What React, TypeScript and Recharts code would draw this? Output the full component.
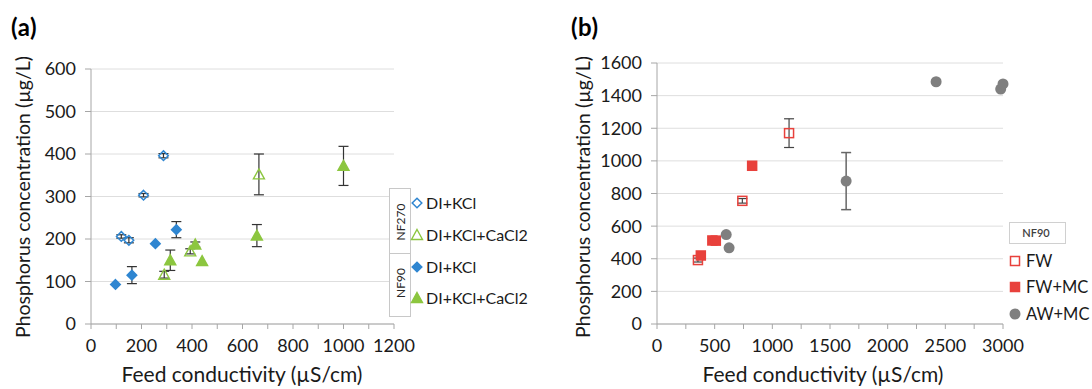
import React from 'react';
import { ScatterChart, Scatter, XAxis, YAxis, CartesianGrid, ErrorBar, Legend } from 'recharts';

const FONT = 'Lato, "Open Sans", sans-serif';

// ---------- Panel (a) ----------
const aXTicks = [0, 100, 200, 300, 400, 500, 600, 700, 800, 900, 1000, 1100, 1200];
const aYTicks = [0, 100, 200, 300, 400, 500, 600];

const nf270KclX = [120, 150, 208, 287];
const nf270KclY = [206, 197, 303, 396];
const nf270KclE = [4, 6, 4, 5];

const nf270CaX = [290, 393, 665];
const nf270CaY = [116, 171, 352];
const nf270CaE = [8, 6, 48];

const nf90KclX = [97, 162, 255, 338];
const nf90KclY = [93, 115, 189, 222];
const nf90KclE = [null, 20, null, 19];

const nf90CaX = [314, 413, 440, 657, 1000];
const nf90CaY = [150, 187, 148, 208, 372];
const nf90CaE = [24, 6, null, 26, 46];

// ---------- Panel (b) ----------
const bXTicks = [0, 250, 500, 750, 1000, 1250, 1500, 1750, 2000, 2250, 2500, 2750, 3000];
const bYTicks = [0, 200, 400, 600, 800, 1000, 1200, 1400, 1600];

const fwX = [355, 740, 1145];
const fwY = [392, 755, 1170];
const fwE = [12, 14, 88];

const fwmcX = [380, 480, 510, 825];
const fwmcY = [420, 512, 511, 970];
const fwmcE = [null, null, null, null];

const awmcX = [600, 625, 1640, 2420, 2980, 3000];
const awmcY = [548, 467, 876, 1485, 1440, 1472];
const awmcE = [null, null, 175, null, null, null];

const pts = (xs: number[], ys: number[], es: (number | null)[]) =>
  xs.map((x, i) => ({ x, y: ys[i], e: es[i] }));

const BLUE = '#2f86d1';
const GREEN = '#8cc63f';
const RED = '#e8413c';
const GRAY = '#7f7f7f';

// ---------- marker shapes ----------
const diamondShape = (fill: string, stroke: string) => (p: any) => {
  const { cx, cy } = p;
  const r = 4.8;
  return (
    <path d={`M${cx},${cy - r}L${cx + r},${cy}L${cx},${cy + r}L${cx - r},${cy}Z`} fill={fill} stroke={stroke} strokeWidth={1.5} />
  );
};
const triangleShape = (fill: string, stroke: string) => (p: any) => {
  const { cx, cy } = p;
  const w = 5.5;
  return (
    <path d={`M${cx},${cy - 5.5}L${cx + w},${cy + 4.5}L${cx - w},${cy + 4.5}Z`} fill={fill} stroke={stroke} strokeWidth={1.4} />
  );
};
const squareShape = (fill: string, stroke: string) => (p: any) => {
  const { cx, cy } = p;
  const h = 4.5;
  return <rect x={cx - h} y={cy - h} width={2 * h} height={2 * h} fill={fill} stroke={stroke} strokeWidth={1.5} />;
};
const circleShape = (fill: string) => (p: any) => {
  const { cx, cy } = p;
  return <circle cx={cx} cy={cy} r={5.5} fill={fill} />;
};

const openDiamond = diamondShape('none', BLUE);
const fullDiamond = diamondShape(BLUE, BLUE);
const openTriangle = triangleShape('none', GREEN);
const fullTriangle = triangleShape(GREEN, GREEN);
const openSquare = squareShape('none', RED);
const fullSquare = squareShape(RED, RED);
const grayCircle = circleShape(GRAY);

const tickStyle = { fill: '#1a1a1a', fontSize: 18, fontFamily: FONT };
const AXIS = '#a6a6a6';
const GRID = '#dedede';

// ---------- legends ----------
const LegendA = () => (
  <svg width={160} height={140} style={{ display: 'block', overflow: 'visible' }}>
    <g transform="translate(-385,-185)" fontFamily={FONT}>
      <rect x={389.5} y={188.5} width={21} height={65} fill="#fff" stroke="#c8c8c8" />
      <rect x={389.5} y={253.5} width={21} height={63} fill="#fff" stroke="#c8c8c8" />
      <text transform="translate(404.5,222) rotate(-90)" textAnchor="middle" fontSize={12} fill="#262626">NF270</text>
      <text transform="translate(404.5,283) rotate(-90)" textAnchor="middle" fontSize={12} fill="#262626">NF90</text>
      {openDiamond({ cx: 417, cy: 203 })}
      {openTriangle({ cx: 417, cy: 235 })}
      {fullDiamond({ cx: 417, cy: 267 })}
      {fullTriangle({ cx: 417, cy: 298 })}
      <text x={426} y={208.5} fontSize={16} fill="#1a1a1a">DI+KCl</text>
      <text x={426} y={240.5} fontSize={16} fill="#1a1a1a">DI+KCl+CaCl2</text>
      <text x={426} y={272.5} fontSize={16} fill="#1a1a1a">DI+KCl</text>
      <text x={426} y={303.5} fontSize={16} fill="#1a1a1a">DI+KCl+CaCl2</text>
    </g>
  </svg>
);

const LegendB = () => (
  <svg width={92} height={115} style={{ display: 'block', overflow: 'visible' }}>
    <g transform="translate(-1000,-215)" fontFamily={FONT}>
      <rect x={1009.5} y={222.5} width={56} height={21} fill="#fff" stroke="#d0d0d0" />
      <text x={1036} y={237} textAnchor="middle" fontSize={11} fontWeight={600} fill="#404040">NF90</text>
      {openSquare({ cx: 1015, cy: 261 })}
      {fullSquare({ cx: 1015, cy: 287 })}
      {grayCircle({ cx: 1015, cy: 314 })}
      <text x={1026} y={266.5} fontSize={16.5} fill="#1a1a1a">FW</text>
      <text x={1026} y={293} fontSize={16.5} fill="#1a1a1a">FW+MC</text>
      <text x={1026} y={320} fontSize={16.5} fill="#1a1a1a">AW+MC</text>
    </g>
  </svg>
);

const yTitle = (ox: number, x: number, tag: string, tagX: number) => () => (
  <g fontFamily={FONT}>
    <text x={tagX - ox} y={36} fontSize={24} fontWeight="bold" fill="#000" letterSpacing={0.5}>{tag}</text>
    <text transform={`translate(${x - ox},197) rotate(-90)`} textAnchor="middle" fontSize={19.5} fill="#1a1a1a">
      Phosphorus concentration (µg/L)
    </text>
  </g>
);
const xTitle = (ox: number, cx: number) => () => (
  <text x={cx - ox} y={382} textAnchor="middle" fontSize={21} fontFamily={FONT} fill="#1a1a1a">
    Feed conductivity (µS/cm)
  </text>
);

export default function App() {
  return (
    <div style={{ position: 'absolute', left: 0, top: 0, width: 1092, height: 389, background: '#fff' }}>
      <div style={{ position: 'absolute', left: 0, top: 0 }}>
        <ScatterChart width={440} height={389} margin={{ top: 69, right: 46, bottom: 25, left: 0 }}>
          <CartesianGrid vertical={false} stroke={GRID} />
          <XAxis
            type="number"
            dataKey="x"
            domain={[0, 1200]}
            ticks={aXTicks}
            interval={0}
            tickFormatter={(v: number) => (v % 200 === 0 ? String(v) : '')}
            height={40}
            tickSize={5}
            tickMargin={10}
            stroke={AXIS}
            tick={tickStyle}
            label={xTitle(0, 242)}
          />
          <YAxis
            type="number"
            dataKey="y"
            domain={[0, 600]}
            ticks={aYTicks}
            interval={0}
            width={91}
            tickSize={6}
            tickMargin={9}
            stroke={AXIS}
            tick={tickStyle}
            label={yTitle(0, 30, '(a)', 11)}
          />
          <Scatter data={pts(nf270KclX, nf270KclY, nf270KclE)} shape={openDiamond} isAnimationActive={false}>
            <ErrorBar dataKey="e" direction="y" width={5} stroke="#333" strokeWidth={1.2} />
          </Scatter>
          <Scatter data={pts(nf270CaX, nf270CaY, nf270CaE)} shape={openTriangle} isAnimationActive={false}>
            <ErrorBar dataKey="e" direction="y" width={5} stroke="#333" strokeWidth={1.2} />
          </Scatter>
          <Scatter data={pts(nf90KclX, nf90KclY, nf90KclE)} shape={fullDiamond} isAnimationActive={false}>
            <ErrorBar dataKey="e" direction="y" width={5} stroke="#333" strokeWidth={1.2} />
          </Scatter>
          <Scatter data={pts(nf90CaX, nf90CaY, nf90CaE)} shape={fullTriangle} isAnimationActive={false}>
            <ErrorBar dataKey="e" direction="y" width={5} stroke="#333" strokeWidth={1.2} />
          </Scatter>
          <Legend
            layout="vertical"
            align="center"
            verticalAlign="middle"
            content={() => <LegendA />}
            wrapperStyle={{ left: 385, top: 185, width: 160, height: 140 }}
          />
        </ScatterChart>
      </div>
      <div style={{ position: 'absolute', left: 560, top: 0 }}>
        <ScatterChart width={532} height={389} margin={{ top: 63, right: 89, bottom: 25, left: 0 }}>
          <CartesianGrid vertical={false} stroke={GRID} />
          <XAxis
            type="number"
            dataKey="x"
            domain={[0, 3000]}
            ticks={bXTicks}
            interval={0}
            tickFormatter={(v: number) => (v % 500 === 0 ? String(v) : '')}
            height={40}
            tickSize={5}
            tickMargin={10}
            stroke={AXIS}
            tick={tickStyle}
            label={xTitle(560, 823)}
          />
          <YAxis
            type="number"
            dataKey="y"
            domain={[0, 1600]}
            ticks={bYTicks}
            interval={0}
            width={97}
            tickSize={6}
            tickMargin={9}
            stroke={AXIS}
            tick={tickStyle}
            label={yTitle(560, 590, '(b)', 571)}
          />
          <Scatter data={pts(fwX, fwY, fwE)} shape={openSquare} isAnimationActive={false}>
            <ErrorBar dataKey="e" direction="y" width={5} stroke="#444" strokeWidth={1.2} />
          </Scatter>
          <Scatter data={pts(fwmcX, fwmcY, fwmcE)} shape={fullSquare} isAnimationActive={false}>
            <ErrorBar dataKey="e" direction="y" width={5} stroke="#444" strokeWidth={1.2} />
          </Scatter>
          <Scatter data={pts(awmcX, awmcY, awmcE)} shape={grayCircle} isAnimationActive={false}>
            <ErrorBar dataKey="e" direction="y" width={5} stroke="#666" strokeWidth={1.5} />
          </Scatter>
          <Legend
            layout="vertical"
            align="center"
            verticalAlign="middle"
            content={() => <LegendB />}
            wrapperStyle={{ left: 440, top: 215, width: 92, height: 115 }}
          />
        </ScatterChart>
      </div>
    </div>
  );
}
